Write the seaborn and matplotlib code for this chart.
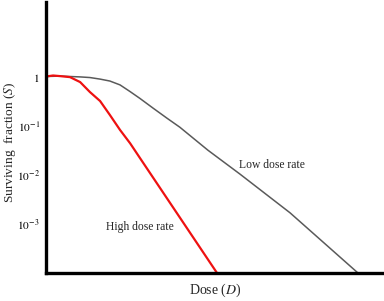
import matplotlib
matplotlib.use("Agg")
import matplotlib.pyplot as plt
import seaborn as sns

# Data (dose in arbitrary units, surviving fraction)
high_dose = [0.0, 0.21, 0.41, 0.71, 1.01, 1.30, 1.60, 1.89, 2.19, 2.49, 2.78, 5.06]
high_surv = [1.04, 1.09, 1.06, 1.01, 0.80, 0.50, 0.328, 0.170, 0.0841, 0.0447, 0.0224, 1.0e-4]

low_dose = [0.0, 0.41, 1.01, 1.30, 1.60, 1.89, 2.19, 2.49, 2.78, 3.17, 3.58, 3.96,
            4.79, 5.74, 7.22, 9.23]
low_surv = [1.04, 1.06, 1.02, 0.99, 0.92, 0.84, 0.70, 0.51, 0.37, 0.234, 0.146, 0.0955,
            0.0324, 0.0105, 0.0017, 1.0e-4]

ytick_vals = [1, 1e-1, 1e-2, 1e-3]
ytick_labels = [r"$1$", r"$10^{-1}$", r"$10^{-2}$", r"$10^{-3}$"]

sns.set_style("white")
plt.rcParams["font.family"] = ["Liberation Serif", "DejaVu Serif"]
plt.rcParams["mathtext.fontset"] = "stix"

fig = plt.figure(figsize=(3.84, 3.01), dpi=100)
ax = fig.add_axes([46 / 384, 28 / 301, (384 - 46) / 384, (273 - 2) / 301])

sns.lineplot(x=low_dose, y=low_surv, color="#5a5a5a", linewidth=1.1, ax=ax)
sns.lineplot(x=high_dose, y=high_surv, color="#ee1111", linewidth=1.6, ax=ax)

ax.set_yscale("log")
ax.set_xlim(0, 10)
ax.set_ylim(1e-4, 10 ** 1.54)

ax.set_yticks(ytick_vals)
ax.set_yticklabels(ytick_labels, fontsize=8.2)
ax.minorticks_off()
ax.set_xticks([])
ax.tick_params(axis="y", direction="inout", length=7, width=1.6, pad=1, colors="black")

for s in ["top", "right"]:
    ax.spines[s].set_visible(False)
for s in ["left", "bottom"]:
    ax.spines[s].set_linewidth(2.4)
    ax.spines[s].set_color("black")

ax.set_xlabel(r"Dose ($D$)", fontsize=10, labelpad=6)
ax.set_ylabel(r"Surviving  fraction ($S$)", fontsize=9.6)
ax.yaxis.set_label_coords(-0.084, 0.483)

ax.text(6.69, 10 ** (-1.79), "Low dose rate", fontsize=8.4, ha="center", va="center")
ax.text(2.78, 10 ** (-3.05), "High dose rate", fontsize=8.4, ha="center", va="center")

fig.savefig("out.png", dpi=100)
